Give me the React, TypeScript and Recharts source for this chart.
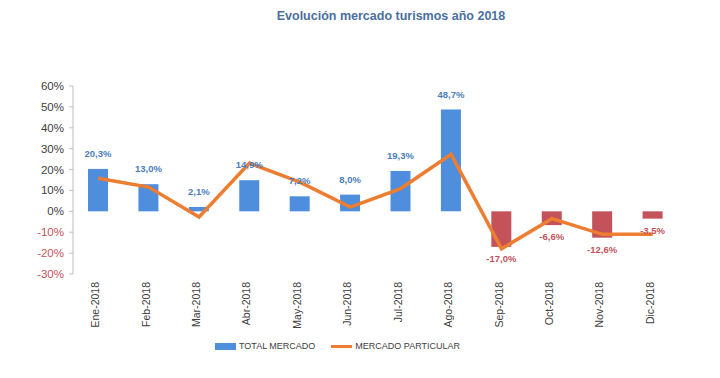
import {
  ComposedChart,
  Bar,
  Line,
  XAxis,
  YAxis,
  Legend,
  Cell,
  LabelList,
} from "recharts";

const months = [
  "Ene-2018", "Feb-2018", "Mar-2018", "Abr-2018", "May-2018", "Jun-2018",
  "Jul-2018", "Ago-2018", "Sep-2018", "Oct-2018", "Nov-2018", "Dic-2018",
];
const totalMercado = [20.3, 13.0, 2.1, 14.9, 7.2, 8.0, 19.3, 48.7, -17.0, -6.6, -12.6, -3.5];
const mercadoParticular = [15.8, 11.6, -2.7, 23.1, 14.0, 2.0, 10.9, 27.3, -17.9, -3.5, -11.0, -11.0];
const yTicks = [-30, -20, -10, 0, 10, 20, 30, 40, 50, 60];

const data = months.map((m, i) => ({
  month: m,
  total: totalMercado[i],
  particular: mercadoParticular[i],
}));

const BLUE = "#4f8edc";
const RED = "#c4525a";
const ORANGE = "#ed7d31";
const FONT = "'Liberation Sans', Arial, sans-serif";

const fmt = (v: number) => v.toFixed(1).replace(".", ",") + "%";

function YTick(props: any) {
  const { x, y, payload } = props;
  const v = payload.value;
  return (
    <text x={x - 1} y={y} dy={4} textAnchor="end" fontSize={11.5} fontFamily={FONT} fill={v < 0 ? RED : "#404040"}>
      {v}%
    </text>
  );
}

function XTick(props: any) {
  const { x, y, payload } = props;
  return (
    <text
      x={x}
      y={y}
      transform={`rotate(-90, ${x}, ${y})`}
      dy={1}
      textAnchor="end"
      fontSize={10.5}
      fontFamily={FONT}
      fill="#404040"
    >
      {payload.value}
    </text>
  );
}

function BarLabel(props: any) {
  const { x, y, width, height, value } = props;
  const neg = value < 0;
  const cx = x + width / 2;
  const top = Math.min(y, y + height);
  const bottom = Math.max(y, y + height);
  const ty = neg ? bottom + 15 : top - 12;
  return (
    <text x={cx} y={ty} textAnchor="middle" fontSize={9.5} fontWeight="bold" fontFamily={FONT} fill={neg ? RED : "#4a7ebb"}>
      {fmt(value)}
    </text>
  );
}

function LegendContent() {
  return (
    <div style={{ display: "flex", alignItems: "center", fontFamily: FONT, fontSize: 9, color: "#404040" }}>
      <span style={{ display: "inline-block", width: 21, height: 7, background: BLUE, marginRight: 3 }} />
      <span style={{ marginRight: 16 }}>TOTAL MERCADO</span>
      <span style={{ display: "inline-block", width: 21, height: 3, background: ORANGE, marginRight: 3 }} />
      <span>MERCADO PARTICULAR</span>
    </div>
  );
}

export default function App() {
  return (
    <div style={{ position: "absolute", left: 0, top: 0, width: 720, height: 378, background: "#fff" }}>
      <div
        style={{
          position: "absolute",
          top: 9,
          left: 0,
          width: 782,
          textAlign: "center",
          fontFamily: FONT,
          fontWeight: "bold",
          fontSize: 12.5,
          color: "#4a6fa0",
        }}
      >
        Evolución mercado turismos año 2018
      </div>
      <ComposedChart
        width={720}
        height={378}
        data={data}
        margin={{ top: 86, right: 42, left: 10, bottom: 44 }}
      >
        <XAxis
          dataKey="month"
          axisLine={false}
          tickLine={false}
          interval={0}
          height={60}
          tick={<XTick />}
        />
        <YAxis
          domain={[-30, 60]}
          ticks={yTicks}
          interval={0}
          width={63}
          tickSize={4}
          tickMargin={4}
          axisLine={{ stroke: "#bfbfbf" }}
          tickLine={{ stroke: "#bfbfbf" }}
          tick={<YTick />}
        />
        <Legend
          verticalAlign="middle"
          layout="horizontal"
          wrapperStyle={{ top: 341, left: 215, width: 260 }}
          content={<LegendContent />}
        />
        <Bar dataKey="total" barSize={20} isAnimationActive={false}>
          {data.map((d, i) => (
            <Cell key={i} fill={d.total < 0 ? RED : BLUE} />
          ))}
          <LabelList dataKey="total" content={<BarLabel />} />
        </Bar>
        <Line
          dataKey="particular"
          type="linear"
          stroke={ORANGE}
          strokeWidth={3.5}
          dot={false}
          isAnimationActive={false}
        />
      </ComposedChart>
    </div>
  );
}
